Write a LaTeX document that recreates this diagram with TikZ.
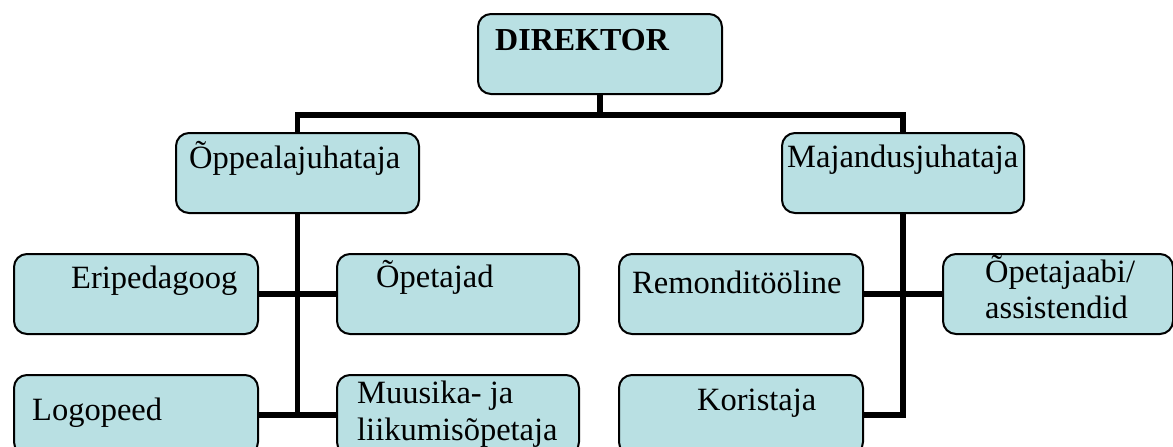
\documentclass[tikz,border=0pt]{standalone}
\usepackage{fontspec}
\setmainfont{Liberation Serif}
\definecolor{boxfill}{HTML}{B9E0E3}
\begin{document}
\begin{tikzpicture}[x=1pt,y=-1pt,
  box/.style={draw=black, fill=boxfill, line width=2pt, rounded corners=13pt,
    rectangle, anchor=north west, inner sep=0pt, minimum height=80pt},
  txt/.style={anchor=base west, inner sep=0pt, font=\fontsize{32.5}{36}\selectfont},
  conn/.style={line width=5.5pt, line join=miter, line cap=butt}]
\useasboundingbox (0,0) rectangle (1173,447);
\clip (0,0) rectangle (1173,447);
% boxes
\node[box, minimum width=244pt] (dir) at (477,13) {};
\node[box, minimum width=243pt] (opp) at (175,132) {};
\node[box, minimum width=242pt] (maj) at (781,132) {};
\node[box, minimum width=244pt] (eri) at (13,253) {};
\node[box, minimum width=242pt] (ope) at (336,253) {};
\node[box, minimum width=244pt] (logo) at (13,374) {};
\node[box, minimum width=242pt] (muu) at (336,374) {};
\node[box, minimum width=244pt] (rem) at (618,253) {};
\node[box, minimum width=230pt] (opa) at (942,253) {};
\node[box, minimum width=244pt] (kor) at (618,374) {};
% texts
\node[txt, font=\fontsize{32}{36}\selectfont\bfseries] (tdir) at (495,50) {DIREKTOR};
\node[txt] (topp) at (189,168) {Õppealajuhataja};
\node[txt] (tmaj) at (787,167) {Majandusjuhataja};
\node[txt] (teri) at (71,288) {Eripedagoog};
\node[txt] (tope) at (376,287) {Õpetajad};
\node[txt] (tlogo) at (32,420) {Logopeed};
\node[txt] (tmuu1) at (357,403) {Muusika- ja};
\node[txt] (tmuu2) at (357,440) {liikumisõpetaja};
\node[txt] (trem) at (632,293) {Remonditööline};
\node[txt] (topa1) at (985,282) {Õpetajaabi/};
\node[txt] (topa2) at (985,318) {assistendid};
\node[txt] (tkor) at (697,410) {Koristaja};
% connectors
\coordinate (bus) at (dir.south |- 0,115);
\draw[conn] (dir.south) -- (bus);
\draw[conn] (opp.north) |- (bus) -| (maj.north);
\draw[conn] (opp.south) -- (opp.south |- logo.east);
\draw[conn] (eri.east) -- (ope.west);
\draw[conn] (logo.east) -- (muu.west);
\draw[conn] (maj.south) |- (kor.east);
\draw[conn] (rem.east) -- (opa.west);
\end{tikzpicture}
\end{document}
